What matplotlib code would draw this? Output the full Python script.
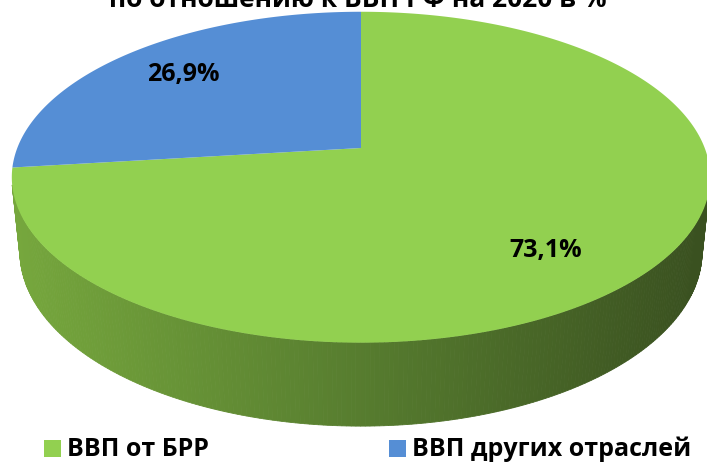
import matplotlib
matplotlib.use('Agg')
import matplotlib.pyplot as plt
from matplotlib.patches import Polygon
import numpy as np

plt.rcParams['font.family'] = ['Open Sans', 'DejaVu Sans']

# data
labels = ['ВВП от БРР', 'ВВП других отраслей']
values = [73.1, 26.9]
value_text = ['73,1%', '26,9%']
title_line = 'по отношению к ВВП РФ на 2020 в %'

top_colors = ['#92d050', '#558ed5']
side_left = np.array([0x76, 0xa7, 0x3d]) / 255
side_mid = np.array([0x57, 0x7d, 0x2f]) / 255
side_right = np.array([0x3a, 0x51, 0x20]) / 255

# 3d perspective pie geometry (pixel space)
W, H = 707, 463
cx, cy = 361, 148
elev = np.radians(27.8)
se, ce = np.sin(elev), np.cos(elev)
dist = 5.01
k = 1722
thick = 0.247


def proj(theta, r=1.0, z=0.0):
    x = r * np.cos(theta)
    y = r * np.sin(theta)
    depth = dist + y * ce - z * se
    X = cx + k * x / depth
    Y = cy - k * (y * se + z * ce) / depth
    return X, Y


def side_color(px):
    t = np.clip((px - 15) / (700 - 15), 0, 1)
    if t < 0.5:
        return side_left + (side_mid - side_left) * (t / 0.5)
    return side_mid + (side_right - side_mid) * ((t - 0.5) / 0.5)


fig = plt.figure(figsize=(W / 100, H / 100), dpi=100)
ax = fig.add_axes([0, 0, 1, 1])
ax.set_xlim(0, W)
ax.set_ylim(H, 0)
ax.axis('off')

# slices: first one starts at 12 o'clock and goes clockwise
fracs = np.array(values) / sum(values)
starts = []
a = np.pi / 2
for f in fracs:
    starts.append((a - 2 * np.pi * f, a))
    a -= 2 * np.pi * f

# outer side walls, only the parts facing the camera
for i, (a0, a1) in enumerate(starts):
    th = np.linspace(a0, a1, 400)
    for j in range(len(th) - 1):
        t0, t1 = th[j], th[j + 1]
        if np.sin((t0 + t1) / 2) > -1 / (dist * ce):
            continue
        p = [proj(t0), proj(t1), proj(t1, z=-thick), proj(t0, z=-thick)]
        mx = (p[0][0] + p[1][0]) / 2
        col = side_color(mx) if i == 0 else np.array([0x3b, 0x68, 0xa8]) / 255
        ax.add_patch(Polygon(p, closed=True, facecolor=col, edgecolor=col,
                             linewidth=0.6, zorder=2))

# top faces
for i, (a0, a1) in enumerate(starts):
    th = np.linspace(a0, a1, 300)
    pts = [proj(0, r=0)] + [proj(t) for t in th]
    ax.add_patch(Polygon(pts, closed=True, facecolor=top_colors[i],
                         edgecolor='none', zorder=3))

# value labels
label_r = [0.75, 0.75]
label_shift = [np.radians(-8.4), 0.0]
for i, (a0, a1) in enumerate(starts):
    mid = (a0 + a1) / 2 + label_shift[i]
    lx, ly = proj(mid, r=label_r[i])
    ax.text(lx, ly, value_text[i], ha='center', va='center',
            fontsize=18, fontweight='bold', color='black', zorder=5)

# title (top of it is cut off in the original)
ax.text(358, 7, title_line, ha='center', va='baseline',
        fontsize=19, fontweight='bold', color='black', zorder=5)

# legend
leg_x = [44, 389]
for i, lab in enumerate(labels):
    ax.add_patch(Polygon([(leg_x[i], 440), (leg_x[i] + 17, 440),
                          (leg_x[i] + 17, 457), (leg_x[i], 457)],
                         closed=True, facecolor=top_colors[i],
                         edgecolor='none', zorder=5))
    ax.text(leg_x[i] + 23, 449, lab, ha='left', va='center',
            fontsize=18, fontweight='bold', color='black', zorder=5)

plt.savefig('out.png', dpi=100)
